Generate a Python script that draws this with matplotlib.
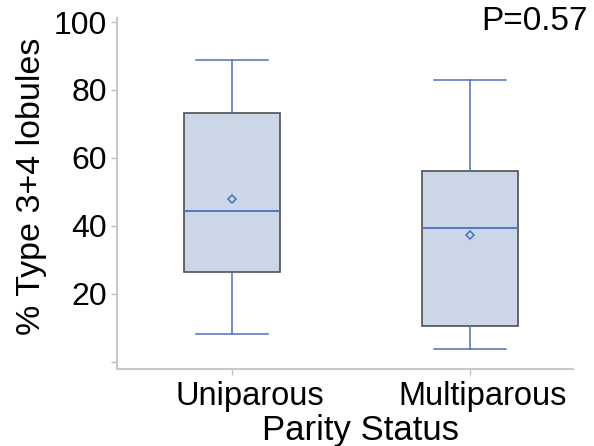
import matplotlib.pyplot as plt
import matplotlib.transforms as mtransforms

plt.rcParams['font.family'] = ['Liberation Sans', 'DejaVu Sans']

# Data #
groups   = ["Uniparous", "Multiparous"]
whislo   = [8.2, 3.8]
q1       = [26.3, 10.6]
medians  = [44.4, 39.3]
means    = [48.0, 37.2]
q3       = [73.2, 56.1]
whishi   = [88.7, 82.8]
yticks   = [0, 20, 40, 60, 80, 100]
ytick_labels = ["", "20", "40", "60", "80", "100"]
p_text = "P=0.57"

stats = []
for i, g in enumerate(groups):
    stats.append(dict(label=g, whislo=whislo[i], q1=q1[i], med=medians[i],
                      q3=q3[i], whishi=whishi[i], mean=means[i], fliers=[]))

# Plotting #
fig = plt.figure(figsize=(5.94, 4.46), dpi=100)
ax = fig.add_axes([117 / 594, 1 - 369.3 / 446, (573 - 117) / 594, (369.3 - 18) / 446])

blue = "#4a70c0"
positions = [1, 2]
ax.bxp(stats, positions=positions, widths=0.4, patch_artist=True, showmeans=True,
       boxprops=dict(facecolor="#cbd6e6", edgecolor="#505050", linewidth=1.2),
       whiskerprops=dict(color=blue, linewidth=1.1),
       capprops=dict(color=blue, linewidth=1.1),
       medianprops=dict(color=blue, linewidth=1.3),
       meanprops=dict(marker="D", markerfacecolor="none", markeredgecolor=blue,
                      markersize=4.5, markeredgewidth=1.1),
       capwidths=0.3)

ax.set_xlim(0.517, 2.433)
ax.set_ylim(-2.24, 101.2)
ax.set_yticks(yticks)
ax.set_yticklabels(ytick_labels, fontsize=23)
ax.set_xticks(positions)
ax.set_xticklabels([])
ax.set_ylabel("% Type 3+4 lobules", fontsize=24.5)
ax.yaxis.set_label_coords(-70 / 456, 0.52)
ax.set_xlabel("Parity Status", fontsize=25)
ax.xaxis.set_label_coords(0.533, -0.127)

# category labels sit a little right of their ticks in the original
xlab_trans = mtransforms.blended_transform_factory(ax.transData, ax.transAxes)
for pos, g, dx in zip(positions, groups, [18, 13]):
    tr = xlab_trans + mtransforms.ScaledTranslation(dx / 100, -12 / 100, fig.dpi_scale_trans)
    ax.text(pos, 0, g, transform=tr, fontsize=23.5, ha="center", va="top")

for side in ["top", "right"]:
    ax.spines[side].set_visible(False)
for side in ["left", "bottom"]:
    ax.spines[side].set_color("#c8c8c8")
    ax.spines[side].set_linewidth(1.5)
ax.tick_params(axis="both", color="#c0c0c0", length=4, width=1, pad=3)

fig.text(588 / 594, 1 - 21 / 446, p_text, fontsize=24, ha="right", va="center")

fig.savefig("out.png", dpi=100)
